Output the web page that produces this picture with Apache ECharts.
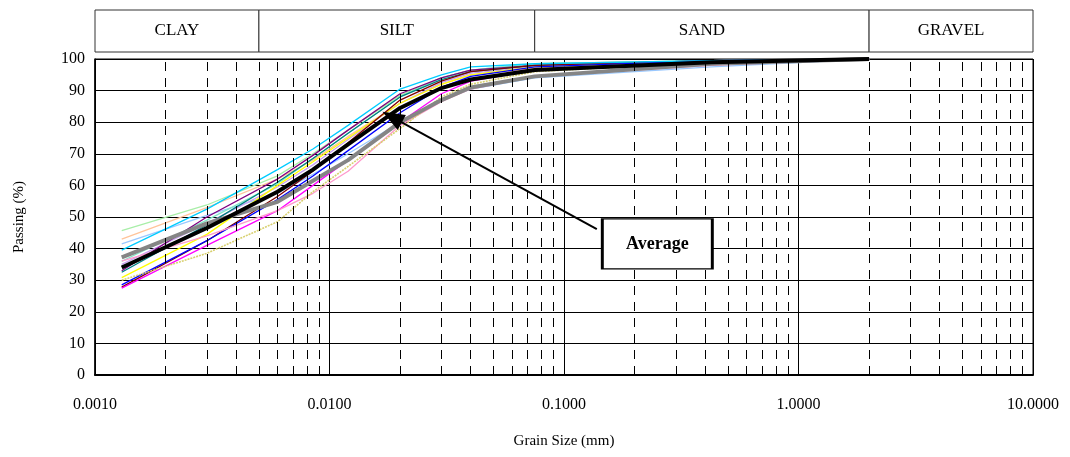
<!DOCTYPE html>
<html><head><meta charset="utf-8">
<script src="https://cdn.jsdelivr.net/npm/echarts@6/dist/echarts.min.js"></script>
<style>html,body{margin:0;padding:0;background:#fff}#c{width:1070px;height:457px}</style>
</head><body><div id="c"></div>
<script>
// Grain sizes (mm) at which passing percentages were read
const grainSizes = [0.0013, 0.003, 0.006, 0.0085, 0.012, 0.02, 0.03, 0.04, 0.075, 0.425, 2.0];

// Individual samples (% passing)
const sampleCyan      = [39.5, 52.5, 65, 71.5, 79, 90.5, 95, 97.5, 98.5, 99.5, 100];
const sampleLightGrn  = [45.7, 53.8, 63, 70, 77.5, 88.5, 94, 96.5, 98.5, 99.5, 100];
const samplePeach     = [43, 53, 62, 68, 75.5, 86, 92, 95, 97, 99, 100];
const sampleLightBlue = [41.5, 50.5, 57.5, 63.5, 70, 80, 87, 90.5, 94, 97.5, 100];
const samplePurple    = [33, 50, 62, 69.5, 77.5, 89, 94, 96.5, 98, 99.5, 100];
const sampleTeal      = [32.5, 47.5, 61, 68.5, 76.5, 88, 93.5, 96, 98, 99.5, 100];
const sampleAqua      = [36, 49, 60.5, 68.5, 76.5, 88, 94, 96.5, 98.5, 99.5, 100];
const sampleLavender  = [35, 48, 59.5, 66.5, 74.5, 86, 92.5, 95.5, 97.5, 99.5, 100];
const sampleYellow    = [30.8, 44.5, 60, 67.5, 75, 86, 92, 95, 97.5, 99.5, 100];
const sampleDarkRed   = [27.8, 42.5, 56.5, 64.5, 73.5, 87, 93, 96, 98, 99.5, 100];
const sampleBlue      = [28.5, 42.5, 55.5, 63, 71, 83, 91, 94.5, 97.5, 99.5, 100];
const sampleMagenta   = [27.5, 41, 52, 60, 68, 80, 89, 93, 96.5, 99, 100];
const samplePink      = [36, 44, 52, 57.5, 64.5, 79, 86.5, 90.5, 94.5, 98, 100];
const sampleOlive     = [30, 38.5, 48.5, 58, 66, 78, 88, 92, 96, 99, 100];
const sampleGray      = [37.2, 48, 54.8, 61.5, 68, 80, 87, 91, 94.5, 98.5, 100];
const averageValues   = [34, 46.5, 58, 65, 73, 84.5, 90.8, 93.5, 96.5, 99, 100];

const thinSamples = [
  ['S1', sampleLightGrn, '#a8eea8'],
  ['S2', samplePeach, '#ffc49a'],
  ['S3', sampleLightBlue, '#99c8ff'],
  ['S4', sampleAqua, '#80e8c8'],
  ['S5', sampleLavender, '#c8a0f0'],
  ['S6', samplePurple, '#800080'],
  ['S7', sampleTeal, '#008080'],
  ['S8', sampleYellow, '#ffff00'],
  ['S9', sampleDarkRed, '#800000'],
  ['S10', sampleBlue, '#0000ff'],
  ['S11', sampleMagenta, '#ff00ff'],
  ['S12', samplePink, '#ff99cc'],
  ['S13', sampleOlive, '#d8d070'],
  ['S14', sampleCyan, '#00ccff']
];

// Soil classification zones
const zoneNames = ['CLAY', 'SILT', 'SAND', 'GRAVEL'];
const zoneBounds = [0.001, 0.005, 0.075, 2.0, 10];

// Axis ranges
const xMin = 0.001, xMax = 10;
const yMin = 0, yMax = 100;
const decades = [0.001, 0.01, 0.1, 1];
const minorMultipliers = [2, 3, 4, 5, 6, 7, 8, 9];

// Annotation (data coordinates)
const annotationText = 'Average';
const arrowStart = [0.138, 46.2];
const arrowTip = [0.0185, 81.6];
const labelAt = [0.25, 41.5];

const serif = '"Liberation Serif", "DejaVu Serif", serif';
const minorValues = [];
decades.forEach(d => minorMultipliers.forEach(m => minorValues.push(+(d * m).toPrecision(3))));

const pts = vals => grainSizes.map((g, i) => [g, vals[i]]);

const series = [];
// minor dashed gridlines + bottom ticks
series.push({
  type: 'line', data: [], silent: true, z: 1,
  markLine: {
    silent: true, symbol: 'none', animation: false,
    label: {show: false},
    lineStyle: {color: '#000', width: 1, type: [9, 7]},
    data: minorValues.map(v => [{coord: [v, yMin]}, {coord: [v, yMax]}])
  }
});
series.push({
  type: 'line', data: [], silent: true, z: 1,
  markLine: {
    silent: true, symbol: 'none', animation: false,
    label: {show: false},
    lineStyle: {color: '#000', width: 1, type: 'solid'},
    data: minorValues.map(v => [{coord: [v, yMin]}, {coord: [v, 2.3]}])
  }
});
thinSamples.forEach(([n, vals, c]) => {
  series.push({
    name: n, type: 'line', data: pts(vals), showSymbol: false, symbol: 'none',
    lineStyle: {color: c, width: n === 'S13' ? 1.6 : 1.3, type: n === 'S13' ? [2, 1] : 'solid'},
    z: 3, animation: false
  });
});
series.push({
  name: 'Gray', type: 'line', data: pts(sampleGray), symbol: 'none',
  lineStyle: {color: '#858585', width: 4}, z: 4, animation: false
});
series.push({
  name: 'Average', type: 'line', data: pts(averageValues), symbol: 'none',
  lineStyle: {color: '#000', width: 4}, z: 5, animation: false,
  markLine: {
    silent: true, animation: false,
    symbol: ['none', 'triangle'], symbolSize: [17, 22],
    label: {show: false},
    lineStyle: {color: '#000', width: 2, type: 'solid'},
    data: [[{coord: arrowStart}, {coord: arrowTip}]]
  },
  markPoint: {
    silent: true, animation: false,
    symbol: 'rect', symbolSize: [110, 50],
    itemStyle: {color: '#fff', borderColor: '#000', borderWidth: 2},
    label: {show: true, position: 'inside', formatter: annotationText, color: '#000',
            fontFamily: serif, fontWeight: 'bold', fontSize: 18},
    data: [{coord: labelAt}]
  }
});
// zone band
series.push({
  type: 'line', xAxisIndex: 1, yAxisIndex: 1, data: [], silent: true,
  markArea: {
    silent: true, animation: false,
    itemStyle: {color: '#fff', borderColor: '#333', borderWidth: 1},
    label: {show: true, position: 'inside', color: '#000', fontFamily: serif, fontSize: 17},
    data: zoneNames.map((n, i) => [{name: n, xAxis: zoneBounds[i], yAxis: 0}, {xAxis: zoneBounds[i + 1], yAxis: 1}])
  }
});

const chart = echarts.init(document.getElementById('c'), null, {renderer: 'canvas'});
chart.setOption({
  backgroundColor: '#fff',
  animation: false,
  grid: [
    {left: 95, right: 37, top: 59, bottom: 82, show: true, borderColor: '#000', borderWidth: 1, backgroundColor: 'transparent'},
    {left: 95, right: 37, top: 10, height: 42}
  ],
  xAxis: [
    {
      type: 'log', logBase: 10, min: xMin, max: xMax, gridIndex: 0,
      name: 'Grain Size (mm)', nameLocation: 'middle', nameGap: 59,
      nameTextStyle: {fontFamily: serif, fontSize: 15, color: '#000'},
      axisLine: {show: true, onZero: false, lineStyle: {color: '#000', width: 2}},
      axisTick: {show: false},
      axisLabel: {fontFamily: serif, fontSize: 16, color: '#000', margin: 22,
                  formatter: v => Number(v).toFixed(4)},
      splitLine: {show: true, lineStyle: {color: '#000', width: 1}},
      minorTick: {show: false}, minorSplitLine: {show: false}
    },
    {type: 'log', logBase: 10, min: xMin, max: xMax, gridIndex: 1, show: false}
  ],
  yAxis: [
    {
      type: 'value', min: yMin, max: yMax, interval: 10, gridIndex: 0,
      name: 'Passing (%)', nameLocation: 'middle', nameGap: 68,
      nameTextStyle: {fontFamily: serif, fontSize: 15, color: '#000'},
      axisLine: {show: true, lineStyle: {color: '#000', width: 1.5}},
      axisTick: {show: false},
      axisLabel: {fontFamily: serif, fontSize: 16, color: '#000', margin: 10},
      splitLine: {show: true, lineStyle: {color: '#000', width: 1}}
    },
    {type: 'value', min: 0, max: 1, gridIndex: 1, show: false}
  ],
  series: series
});
</script>
</body></html>
